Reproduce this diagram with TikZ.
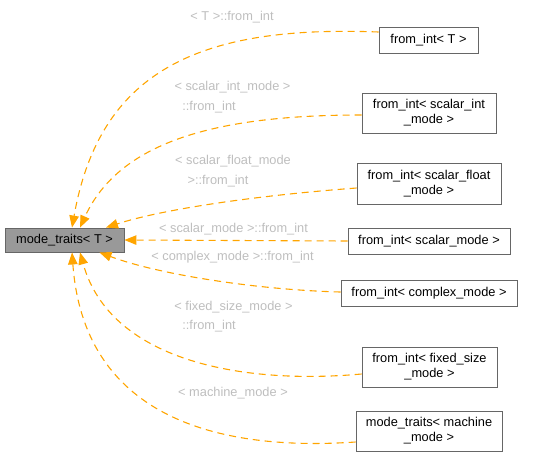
\documentclass[tikz,border=0pt]{standalone}
\usepackage{fontspec}
\setmainfont{Liberation Sans}
\usetikzlibrary{arrows.meta}
\definecolor{edgeor}{HTML}{FFA500}
\definecolor{lblgray}{HTML}{BEBEBE}
\definecolor{boxline}{HTML}{666666}
\definecolor{mainfill}{HTML}{999999}
\tikzset{
  cls/.style={draw=boxline, line width=0.9pt, fill=white, inner sep=0pt, align=center,
     font=\fontsize{12.8}{15}\selectfont},
  mainbox/.style={cls, fill=mainfill},
  lbl/.style={text=lblgray, inner sep=0pt, font=\fontsize{12.8}{15}\selectfont,
     text height=9.5pt, text depth=2.5pt},
  inh/.style={draw=edgeor, line width=1.1pt, dash pattern=on 7pt off 5pt,
     -{Triangle[length=12pt,width=9.5pt]}}
}
\begin{document}
\begin{tikzpicture}[x=1pt,y=-1pt]
\useasboundingbox (0,0) rectangle (539,456);
% nodes
\node[mainbox, minimum width=119pt, minimum height=24pt] (mt) at (64.5,240) {mode\_traits< T >};
\node[cls, minimum width=99pt, minimum height=26pt] (n1) at (428.5,40) {from\_int< T >};
\node[cls, minimum width=134pt, minimum height=40pt] (n2) at (429,113) {from\_int< scalar\_int\\\_mode >};
\node[cls, minimum width=144pt, minimum height=41pt] (n3) at (429,183.5) {from\_int< scalar\_float\\\_mode >};
\node[cls, minimum width=162pt, minimum height=26pt] (n4) at (429,241) {from\_int< scalar\_mode >};
\node[cls, minimum width=176pt, minimum height=26pt] (n5) at (429,293) {from\_int< complex\_mode >};
\node[cls, minimum width=135pt, minimum height=40pt] (n6) at (429.5,367) {from\_int< fixed\_size\\\_mode >};
\node[cls, minimum width=146pt, minimum height=40pt] (n7) at (429,431) {mode\_traits< machine\\\_mode >};
% labels
\node[lbl] (l1) at (232,17) {< T >::from\_int};
\node[lbl] (l2a) at (232.5,87) {< scalar\_int\_mode >};
\node[lbl] (l2b) at (209,107) {::from\_int};
\node[lbl] (l3a) at (233,161) {< scalar\_float\_mode};
\node[lbl] (l3b) at (218,181) {>::from\_int};
\node[lbl] (l4) at (233.5,229) {< scalar\_mode >::from\_int};
\node[lbl] (l5) at (232.5,257) {< complex\_mode >::from\_int};
\node[lbl] (l6a) at (233.5,307) {< fixed\_size\_mode >};
\node[lbl] (l6b) at (209,326) {::from\_int};
\node[lbl] (l7) at (233,393) {< machine\_mode >};
% edges
\draw[inh] ([yshift=8pt]n1.west) .. controls (200,25) and (100,70) .. ([xshift=7.5pt]mt.north);
\draw[inh] ([yshift=-2pt]n2.west) .. controls (220,115) and (120,140) .. ([xshift=15.5pt]mt.north);
\draw[inh] ([yshift=-4.5pt]n3.west) .. controls (250,196) and (160,210) .. ([xshift=41.5pt]mt.north);
\draw[inh] (n4.west) -- (mt.east);
\draw[inh] ([yshift=1pt]n5.west) .. controls (260,290) and (160,275) .. ([xshift=35pt]mt.south);
\draw[inh] ([yshift=-7pt]n6.west) .. controls (240,385) and (110,360) .. ([xshift=15.5pt]mt.south);
\draw[inh] ([yshift=-11pt]n7.west) .. controls (240,450) and (85,430) .. ([xshift=7.5pt]mt.south);
\end{tikzpicture}
\end{document}
